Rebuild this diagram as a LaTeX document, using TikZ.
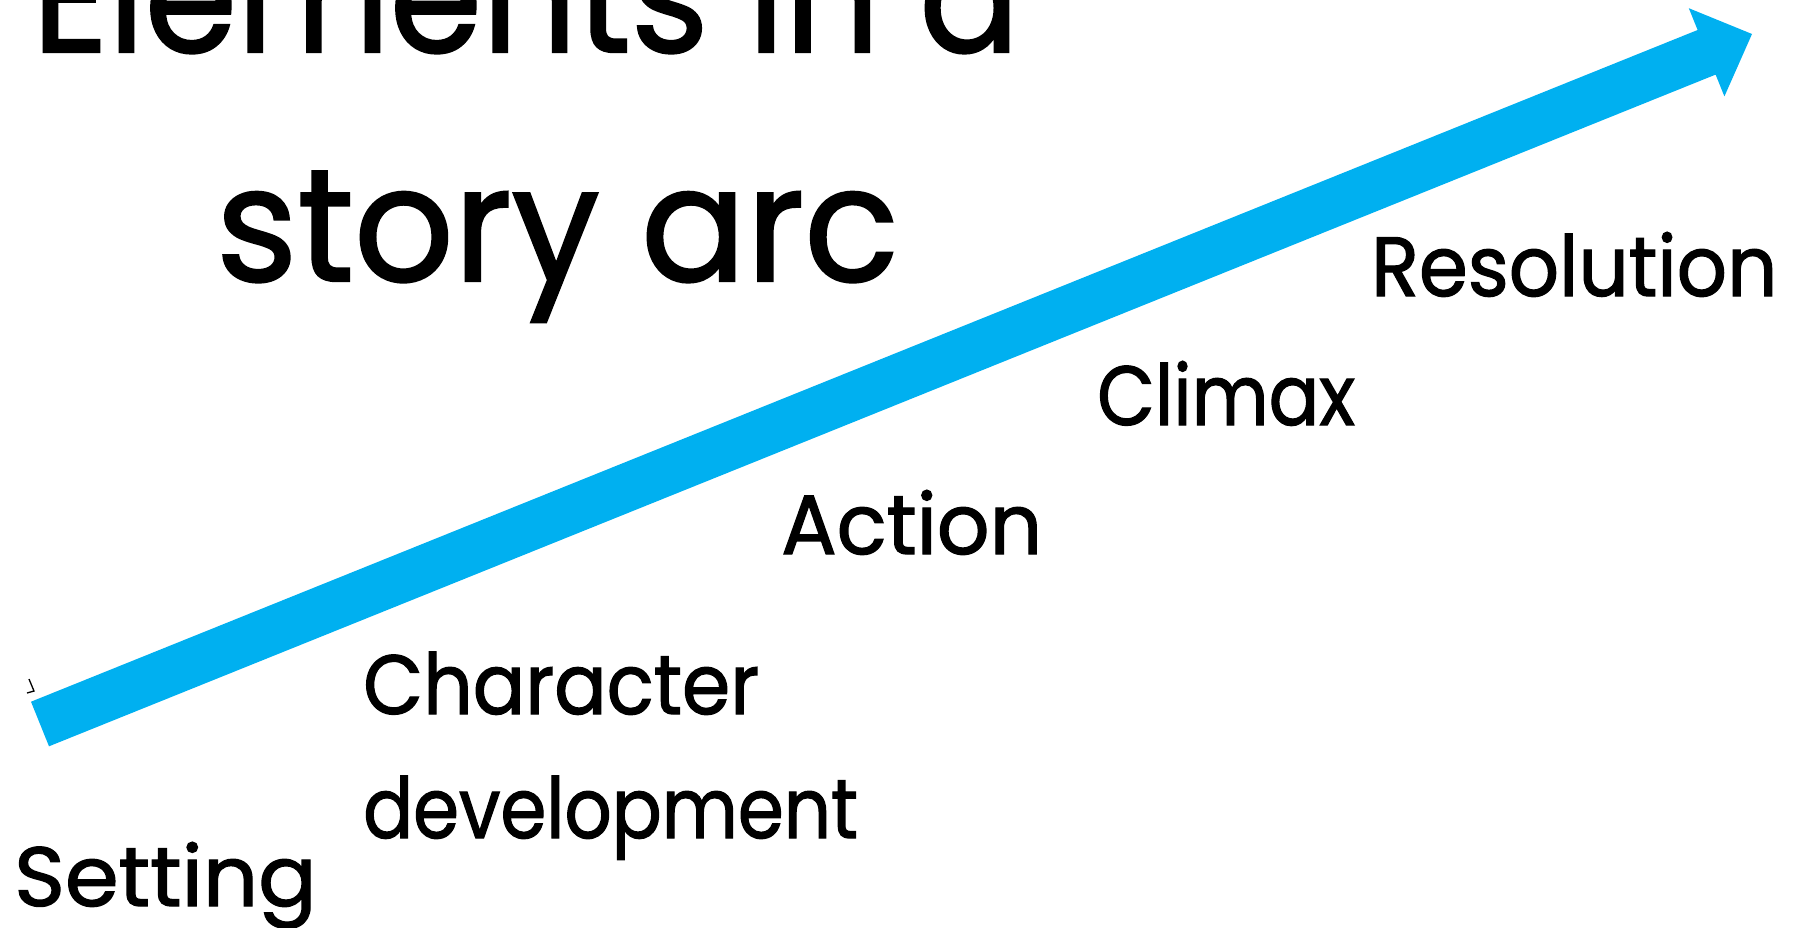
\documentclass[tikz,border=0pt]{standalone}
\usepackage{graphicx}
\usepackage{fontspec}
\setmainfont{Poppins}[FakeBold=1.5]
\definecolor{arcblue}{HTML}{00B0F0}
\begin{document}
\begin{tikzpicture}[x=1pt,y=-1pt,
  lbl/.style={inner sep=0pt, anchor=base west, font=\fontsize{84}{124}\selectfont},
  ttl/.style={inner sep=0pt, anchor=base west, font=\fontsize{160}{190}\selectfont}]
\useasboundingbox (0,0) rectangle (1799,927);
% arrow
\coordinate (t1) at (31.0,701.7);
\coordinate (t2) at (49.0,746.3);
\coordinate (s1) at (1697.6,30.0);
\coordinate (s2) at (1715.6,74.6);
\coordinate (h1) at (1688.8,8.2);
\coordinate (h2) at (1724.4,96.4);
\coordinate (tip) at (1752,34);
\fill[arcblue] (t1) -- (s1) -- (h1) -- (tip) -- (h2) -- (s2) -- (t2) -- cycle;
% small mark
\draw[line width=1.3pt] (29,679) -- (34,691) -- (27,693);
% title
\node[ttl] (title1) at (32,52) {\scalebox{0.928}[1]{Elements in a}};
\node[ttl] (title2) at (216,281) {\scalebox{0.973}[1]{story arc}};
% labels
\node[lbl] (setting) at (14,906) {\scalebox{1.03}[1]{Setting}};
\node[lbl, align=left] (chardev) at (363,838) {\scalebox{0.924}[1]{Character}\\\scalebox{0.88}[1]{development}};
\node[lbl] (action) at (781,554) {\scalebox{0.98}[1]{Action}};
\node[lbl] (climax) at (1097,425) {\scalebox{0.89}[1]{Climax}};
\node[lbl] (resolution) at (1371,296) {\scalebox{0.936}[1]{Resolution}};
\end{tikzpicture}
\end{document}
